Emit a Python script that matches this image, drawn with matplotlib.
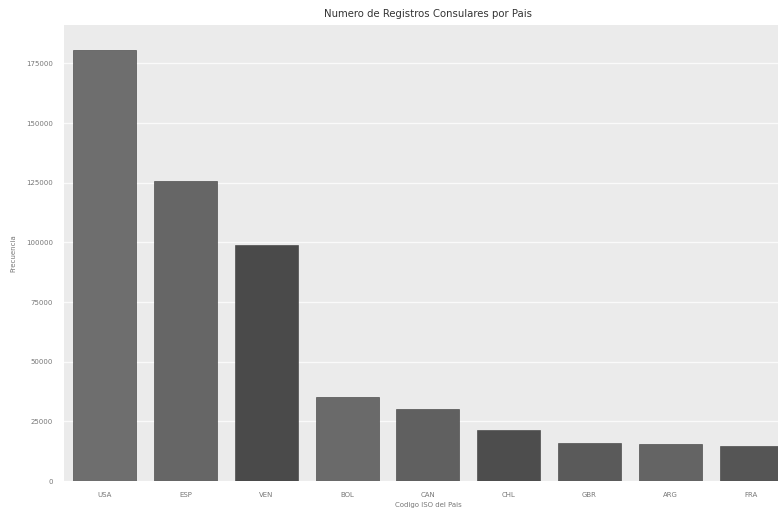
import matplotlib
matplotlib.use("Agg")
from matplotlib import pyplot as plt
from matplotlib.ticker import MultipleLocator, FuncFormatter

# data
paises = ['USA', 'ESP', 'VEN', 'BOL', 'CAN', 'CHL', 'GBR', 'ARG', 'FRA']
registros = [180600, 125900, 98700, 35400, 30200, 21500, 15800, 15700, 14600]
colores = ['#6e6e6e', '#666666', '#4a4a4a', '#6a6a6a', '#606060',
           '#4d4d4d', '#5a5a5a', '#646464', '#555555']

fig = plt.figure(figsize=(7.78, 5.11), dpi=100)
# axes run a little past the right edge, as in the reference
ax = fig.add_axes([0.0825, 0.0587, 0.935, 0.892])
ax.set_facecolor('#ebebeb')

ax.bar(range(len(paises)), registros, width=0.78, color=colores,
       edgecolor='#3a3a3a', linewidth=0.4, zorder=2)

ax.set_xlim(-0.5, len(paises) - 0.5)
ax.set_ylim(0, 191000)
ax.yaxis.set_major_locator(MultipleLocator(25000))
ax.yaxis.set_major_formatter(FuncFormatter(lambda v, p: f"{int(v)}"))
ax.set_xticks(range(len(paises)))
ax.set_xticklabels(paises)

ax.grid(axis='y', color='#fafafa', linewidth=1.0, zorder=0)
ax.set_axisbelow(True)
for s in ax.spines.values():
    s.set_visible(False)
ax.tick_params(length=0, labelsize=5, colors='#777777', pad=8)

ax.set_title("Numero de Registros Consulares por Pais", fontsize=7.3,
             color='#333333', pad=6)
ax.set_xlabel("Codigo ISO del Pais", fontsize=5, color='#777777', labelpad=3)
ax.set_ylabel("Frecuencia", fontsize=5, color='#777777', labelpad=7)

fig.savefig("out.png", dpi=100)
